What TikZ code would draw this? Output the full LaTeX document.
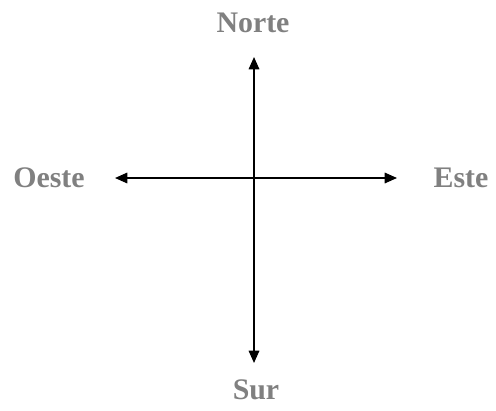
\documentclass[tikz,border=0pt]{standalone}
\usepackage{fontspec}
\setmainfont{Liberation Serif}
\usetikzlibrary{arrows.meta}
\definecolor{labelgray}{RGB}{128,128,128}
\begin{document}
\begin{tikzpicture}[x=0.02cm,y=0.02cm,
    dir/.style={text=labelgray,font=\fontsize{17}{20}\selectfont\bfseries},
    axis/.style={line width=0.9pt,{Triangle[length=7pt,width=6pt]}-{Triangle[length=7pt,width=6pt]}}]
    \useasboundingbox (0,0) rectangle (496,410);
    % ends of the cross
    \coordinate (n) at (254,353);
    \coordinate (s) at (254,47);
    \coordinate (w) at (115,232);
    \coordinate (e) at (397,232);
    \draw[axis] (w) -- (e);
    \draw[axis] (n) -- (s);
    \node[dir] (norte) at (253,387) {Norte};
    \node[dir] (sur) at (256,20) {Sur};
    \node[dir] (oeste) at (49,232) {Oeste};
    \node[dir] (este) at (461,232) {Este};
  \end{tikzpicture}
\end{document}
